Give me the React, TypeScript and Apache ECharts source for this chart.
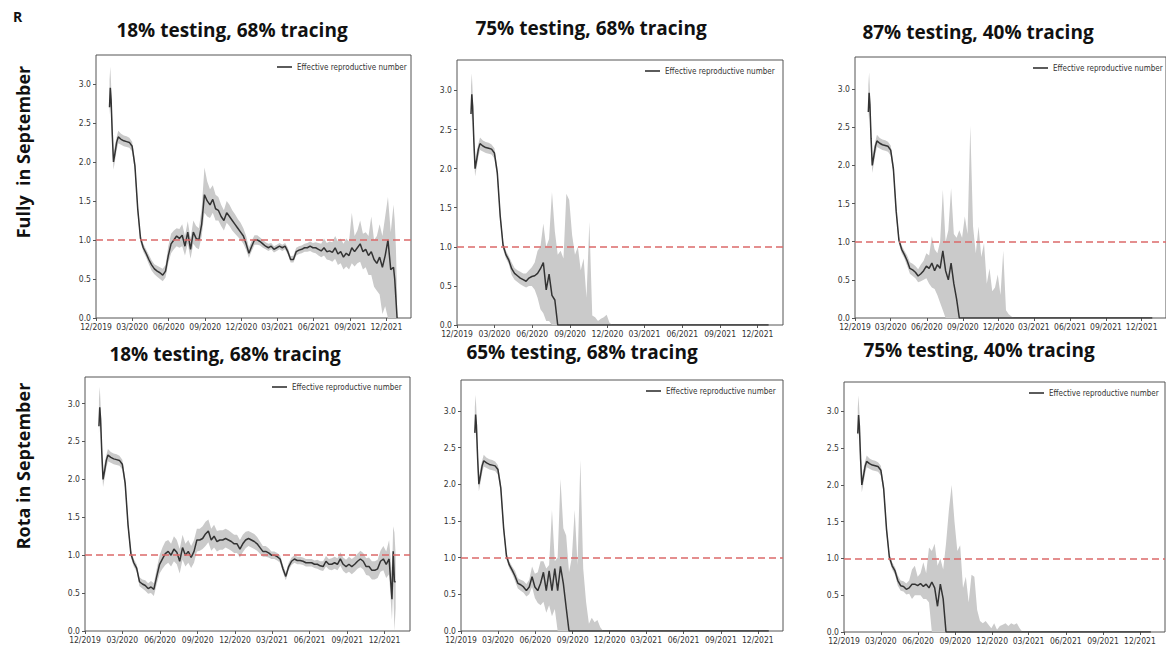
import React, { useEffect, useRef } from "react";
import * as echarts from "echarts";

// ---------------- DATA ----------------
const DATES = [
  "2020-01-04", "2020-01-06", "2020-01-08", "2020-01-11", "2020-01-14", "2020-01-18", "2020-01-22", "2020-01-26",
  "2020-02-02", "2020-02-09", "2020-02-16", "2020-02-23", "2020-03-01", "2020-03-08", "2020-03-15", "2020-03-22", "2020-03-29", "2020-04-05",
  "2020-04-12", "2020-04-19", "2020-04-26", "2020-05-03", "2020-05-10", "2020-05-17", "2020-05-24", "2020-05-31", "2020-06-07", "2020-06-14",
  "2020-06-21", "2020-06-28", "2020-07-05", "2020-07-12", "2020-07-19", "2020-07-26", "2020-08-02", "2020-08-09", "2020-08-16", "2020-08-23",
  "2020-08-30", "2020-09-06", "2020-09-13", "2020-09-20", "2020-09-27", "2020-10-04", "2020-10-11", "2020-10-18", "2020-10-25", "2020-11-01",
  "2020-11-08", "2020-11-15", "2020-11-22", "2020-11-29", "2020-12-06", "2020-12-13", "2020-12-20", "2020-12-27", "2021-01-03", "2021-01-10",
  "2021-01-17", "2021-01-24", "2021-01-31", "2021-02-07", "2021-02-14", "2021-02-21", "2021-02-28", "2021-03-07", "2021-03-14", "2021-03-21",
  "2021-03-28", "2021-04-04", "2021-04-11", "2021-04-18", "2021-04-25", "2021-05-02", "2021-05-09", "2021-05-16", "2021-05-23", "2021-05-30",
  "2021-06-06", "2021-06-13", "2021-06-20", "2021-06-27", "2021-07-04", "2021-07-11", "2021-07-18", "2021-07-25", "2021-08-01", "2021-08-08",
  "2021-08-15", "2021-08-22", "2021-08-29", "2021-09-05", "2021-09-12", "2021-09-19", "2021-09-26", "2021-10-03", "2021-10-10", "2021-10-17",
  "2021-10-24", "2021-10-31", "2021-11-07", "2021-11-14", "2021-11-21", "2021-11-28", "2021-12-05", "2021-12-12", "2021-12-19",
  "2021-12-22", "2021-12-25", "2021-12-28",
];

const TICK_DATES = ["2019-12-01", "2020-03-01", "2020-06-01", "2020-09-01", "2020-12-01", "2021-03-01", "2021-06-01", "2021-09-01", "2021-12-01"];
const TICK_LABELS = ["12/2019", "03/2020", "06/2020", "09/2020", "12/2020", "03/2021", "06/2021", "09/2021", "12/2021"];
const Y_TICKS = [0, 0.5, 1.0, 1.5, 2.0, 2.5, 3.0];
const THRESHOLD = 1.0;
const X_START = "2019-12-01";
const X_END = "2022-02-01";

const TITLES = [
  "18% testing, 68% tracing", "75% testing, 68% tracing", "87% testing, 40% tracing",
  "18% testing, 68% tracing", "65% testing, 68% tracing", "75% testing, 40% tracing",
];
const ROW_LABELS = ["Fully  in September", "Rota in September"];
const PANEL_LETTER = "R";
const LEGEND_NAME = "Effective reproductive number";

// Shared early epidemic phase (Jan 4 - Apr 5 2020), identical in all scenarios
const EARLY_MID = [2.70, 2.95, 2.80, 2.35, 2.00, 2.12, 2.25, 2.32, 2.29, 2.27, 2.26, 2.25, 2.20, 1.95, 1.40, 1.02, 0.90, 0.83];
const EARLY_LO = [2.60, 2.75, 2.60, 2.20, 1.90, 2.02, 2.15, 2.24, 2.22, 2.20, 2.19, 2.18, 2.13, 1.88, 1.33, 0.97, 0.85, 0.78];
const EARLY_HI = [3.05, 3.22, 3.00, 2.50, 2.10, 2.22, 2.32, 2.40, 2.36, 2.34, 2.33, 2.31, 2.26, 2.02, 1.47, 1.07, 0.95, 0.88];

// Fully in September, 18% testing, 68% tracing (from Apr 12 2020)
const FULLY_18_68_MID = [
  0.75, 0.68, 0.63, 0.60, 0.58, 0.55, 0.60, 0.80, 0.95, 1.00,
  1.05, 1.02, 1.06, 0.92, 1.10, 0.88, 1.10, 1.02, 1.00, 1.20,
  1.58, 1.50, 1.45, 1.52, 1.40, 1.38, 1.30, 1.25, 1.35, 1.30,
  1.25, 1.20, 1.15, 1.10, 1.05, 0.95, 0.83, 0.92, 1.00, 1.00,
  0.98, 0.95, 0.92, 0.90, 0.92, 0.88, 0.90, 0.92, 0.90, 0.92,
  0.85, 0.75, 0.75, 0.85, 0.87, 0.88, 0.90, 0.90, 0.92, 0.90,
  0.90, 0.88, 0.86, 0.90, 0.85, 0.86, 0.84, 0.90, 0.82, 0.85,
  0.78, 0.83, 0.80, 0.90, 0.85, 0.90, 0.95, 0.85, 0.88, 0.80,
  0.85, 0.75, 0.70, 0.78, 0.65, 0.80, 1.00, 0.62, 0.65,
  0.50, 0.25, 0.00,
];
const FULLY_18_68_LO = [
  0.69, 0.61, 0.56, 0.53, 0.50, 0.47, 0.52, 0.70, 0.83, 0.88,
  0.92, 0.90, 0.92, 0.80, 0.95, 0.76, 0.95, 0.90, 0.88, 1.05,
  1.35, 1.30, 1.28, 1.35, 1.25, 1.25, 1.18, 1.12, 1.22, 1.18,
  1.12, 1.08, 1.04, 1.00, 0.95, 0.87, 0.77, 0.86, 0.94, 0.94,
  0.93, 0.90, 0.88, 0.86, 0.88, 0.84, 0.86, 0.88, 0.86, 0.88,
  0.81, 0.71, 0.71, 0.80, 0.82, 0.83, 0.85, 0.85, 0.86, 0.84,
  0.83, 0.80, 0.78, 0.80, 0.75, 0.74, 0.72, 0.76, 0.68, 0.70,
  0.62, 0.66, 0.62, 0.70, 0.66, 0.70, 0.72, 0.62, 0.65, 0.55,
  0.55, 0.40, 0.35, 0.30, 0.05, 0.15, 0.00, 0.00, 0.00,
  0.00, 0.00, 0.00,
];
const FULLY_18_68_HI = [
  0.81, 0.74, 0.69, 0.67, 0.65, 0.63, 0.68, 0.92, 1.08, 1.12,
  1.15, 1.14, 1.20, 1.05, 1.24, 1.02, 1.25, 1.18, 1.15, 1.40,
  1.93, 1.75, 1.65, 1.70, 1.58, 1.55, 1.45, 1.38, 1.50, 1.45,
  1.38, 1.33, 1.27, 1.22, 1.15, 1.05, 0.90, 0.99, 1.06, 1.06,
  1.03, 1.00, 0.97, 0.95, 0.96, 0.92, 0.94, 0.96, 0.94, 0.96,
  0.90, 0.79, 0.80, 0.90, 0.92, 0.93, 0.95, 0.96, 0.98, 0.96,
  0.97, 0.96, 0.95, 1.02, 0.96, 0.98, 0.97, 1.05, 0.98, 1.02,
  0.95, 1.02, 0.98, 1.35, 1.05, 1.12, 1.25, 1.08, 1.10, 1.05,
  1.30, 1.00, 1.05, 1.20, 1.05, 1.30, 1.55, 1.10, 1.45,
  1.25, 0.90, 0.30,
];

// Fully in September, 75% testing, 68% tracing
const FULLY_75_68_MID = [
  0.72, 0.66, 0.63, 0.60, 0.58, 0.56, 0.60, 0.62, 0.63, 0.66,
  0.72, 0.80, 0.45, 0.65, 0.38, 0.32, 0, 0, 0, 0,
  0, 0, 0, 0, 0, 0, 0, 0, 0, 0,
  0, 0, 0, 0, 0, 0, 0, 0, 0, 0,
  0, 0, 0, 0, 0, 0, 0, 0, 0, 0,
  0, 0, 0, 0, 0, 0, 0, 0, 0, 0,
  0, 0, 0, 0, 0, 0, 0, 0, 0, 0,
  0, 0, 0, 0, 0, 0, 0, 0, 0, 0,
  0, 0, 0, 0, 0, 0, 0, 0, 0,
  0, 0, 0,
];
const FULLY_75_68_LO = [
  0.64, 0.58, 0.55, 0.52, 0.50, 0.48, 0.50, 0.50, 0.45, 0.35,
  0.20, 0.15, 0.05, 0.05, 0, 0, 0, 0, 0, 0,
  0, 0, 0, 0, 0, 0, 0, 0, 0, 0,
  0, 0, 0, 0, 0, 0, 0, 0, 0, 0,
  0, 0, 0, 0, 0, 0, 0, 0, 0, 0,
  0, 0, 0, 0, 0, 0, 0, 0, 0, 0,
  0, 0, 0, 0, 0, 0, 0, 0, 0, 0,
  0, 0, 0, 0, 0, 0, 0, 0, 0, 0,
  0, 0, 0, 0, 0, 0, 0, 0, 0,
  0, 0, 0,
];
const FULLY_75_68_HI = [
  0.80, 0.73, 0.70, 0.68, 0.66, 0.66, 0.70, 0.74, 0.80, 0.95,
  1.00, 1.30, 1.00, 1.10, 1.70, 1.20, 0.90, 0.95, 0.85, 1.68,
  1.60, 1.15, 0.90, 1.00, 0.70, 0.85, 0.35, 1.32, 0.12, 0.10,
  0.05, 0.08, 0.10, 0.13, 0.03, 0, 0, 0, 0, 0,
  0, 0, 0, 0, 0, 0, 0, 0, 0, 0,
  0, 0, 0, 0, 0, 0, 0, 0, 0, 0,
  0, 0, 0, 0, 0, 0, 0, 0, 0, 0,
  0, 0, 0, 0, 0, 0, 0, 0, 0, 0,
  0, 0, 0, 0, 0, 0, 0, 0, 0,
  0, 0, 0,
];

// Fully in September, 87% testing, 40% tracing
const FULLY_87_40_MID = [
  0.75, 0.65, 0.63, 0.60, 0.55, 0.58, 0.62, 0.68, 0.65, 0.72,
  0.62, 0.70, 0.65, 0.88, 0.62, 0.50, 0.72, 0.45, 0.25, 0,
  0, 0, 0, 0, 0, 0, 0, 0, 0, 0,
  0, 0, 0, 0, 0, 0, 0, 0, 0, 0,
  0, 0, 0, 0, 0, 0, 0, 0, 0, 0,
  0, 0, 0, 0, 0, 0, 0, 0, 0, 0,
  0, 0, 0, 0, 0, 0, 0, 0, 0, 0,
  0, 0, 0, 0, 0, 0, 0, 0, 0, 0,
  0, 0, 0, 0, 0, 0, 0, 0, 0,
  0, 0, 0,
];
const FULLY_87_40_LO = [
  0.68, 0.58, 0.55, 0.52, 0.47, 0.48, 0.50, 0.52, 0.45, 0.40,
  0.38, 0.30, 0.20, 0.10, 0, 0, 0, 0, 0, 0,
  0, 0, 0, 0, 0, 0, 0, 0, 0, 0,
  0, 0, 0, 0, 0, 0, 0, 0, 0, 0,
  0, 0, 0, 0, 0, 0, 0, 0, 0, 0,
  0, 0, 0, 0, 0, 0, 0, 0, 0, 0,
  0, 0, 0, 0, 0, 0, 0, 0, 0, 0,
  0, 0, 0, 0, 0, 0, 0, 0, 0, 0,
  0, 0, 0, 0, 0, 0, 0, 0, 0,
  0, 0, 0,
];
const FULLY_87_40_HI = [
  0.82, 0.73, 0.71, 0.68, 0.64, 0.70, 0.75, 0.85, 0.82, 1.07,
  0.90, 0.85, 1.00, 1.68, 1.00, 1.15, 1.70, 1.10, 1.05, 1.15,
  1.05, 1.33, 1.10, 2.52, 1.20, 0.85, 1.20, 0.80, 0.98, 0.45,
  0.65, 0.35, 0.40, 0.57, 0.30, 0.88, 0.10, 0.05, 0.02, 0,
  0, 0, 0, 0, 0, 0, 0, 0, 0, 0,
  0, 0, 0, 0, 0, 0, 0, 0, 0, 0,
  0, 0, 0, 0, 0, 0, 0, 0, 0, 0,
  0, 0, 0, 0, 0, 0, 0, 0, 0, 0,
  0, 0, 0, 0, 0, 0, 0, 0, 0,
  0, 0, 0,
];

// Rota in September, 18% testing, 68% tracing
const ROTA_18_68_MID = [
  0.65, 0.62, 0.60, 0.56, 0.58, 0.55, 0.72, 0.88, 0.95, 1.02,
  1.05, 1.00, 1.08, 1.04, 0.92, 1.10, 1.00, 1.05, 0.97, 1.05,
  1.20, 1.20, 1.22, 1.28, 1.32, 1.20, 1.25, 1.18, 1.20, 1.20,
  1.22, 1.20, 1.18, 1.15, 1.15, 1.08, 1.15, 1.20, 1.22, 1.20,
  1.18, 1.15, 1.10, 1.05, 1.05, 1.03, 1.00, 1.00, 0.98, 0.95,
  0.82, 0.72, 0.85, 0.92, 0.95, 0.93, 0.93, 0.92, 0.90, 0.90,
  0.90, 0.88, 0.88, 0.86, 0.85, 0.92, 0.88, 0.88, 0.90, 0.88,
  0.95, 0.88, 0.85, 0.88, 0.85, 0.88, 0.92, 0.95, 0.92, 0.85,
  0.85, 0.80, 0.80, 0.82, 0.92, 0.95, 0.88, 0.95, 0.42,
  1.05, 0.65, 0.65,
];
const ROTA_18_68_LO = [
  0.59, 0.56, 0.53, 0.49, 0.50, 0.46, 0.62, 0.76, 0.82, 0.87,
  0.90, 0.85, 0.92, 0.88, 0.76, 0.94, 0.85, 0.90, 0.83, 0.90,
  1.05, 1.06, 1.08, 1.12, 1.17, 1.06, 1.10, 1.05, 1.07, 1.07,
  1.10, 1.08, 1.06, 1.03, 1.03, 0.97, 1.04, 1.09, 1.12, 1.10,
  1.08, 1.06, 1.02, 0.98, 0.98, 0.97, 0.95, 0.95, 0.93, 0.90,
  0.77, 0.67, 0.80, 0.87, 0.90, 0.88, 0.88, 0.87, 0.85, 0.85,
  0.85, 0.83, 0.82, 0.80, 0.79, 0.85, 0.81, 0.80, 0.82, 0.80,
  0.86, 0.79, 0.76, 0.78, 0.75, 0.78, 0.82, 0.84, 0.81, 0.74,
  0.73, 0.68, 0.68, 0.70, 0.78, 0.80, 0.70, 0.75, 0.15,
  0.60, 0.00, 0.30,
];
const ROTA_18_68_HI = [
  0.71, 0.68, 0.67, 0.63, 0.66, 0.63, 0.82, 1.00, 1.10, 1.18,
  1.20, 1.15, 1.25, 1.20, 1.08, 1.27, 1.15, 1.20, 1.12, 1.20,
  1.35, 1.35, 1.38, 1.44, 1.47, 1.35, 1.40, 1.32, 1.33, 1.33,
  1.35, 1.33, 1.30, 1.27, 1.27, 1.20, 1.27, 1.31, 1.32, 1.30,
  1.28, 1.24, 1.18, 1.12, 1.12, 1.09, 1.05, 1.05, 1.03, 1.00,
  0.87, 0.77, 0.90, 0.97, 1.00, 0.98, 0.98, 0.97, 0.95, 0.95,
  0.95, 0.93, 0.94, 0.92, 0.92, 0.99, 0.95, 0.96, 0.98, 0.96,
  1.04, 0.97, 0.94, 0.98, 0.95, 0.98, 1.02, 1.06, 1.03, 0.96,
  0.97, 0.92, 0.92, 0.94, 1.06, 1.12, 1.05, 1.20, 0.75,
  1.38, 1.30, 1.00,
];

// Rota in September, 65% testing, 68% tracing
const ROTA_65_68_MID = [
  0.75, 0.65, 0.63, 0.60, 0.55, 0.60, 0.74, 0.60, 0.55, 0.65,
  0.80, 0.55, 0.82, 0.55, 0.85, 0.55, 0.88, 0.65, 0.32, 0,
  0, 0, 0, 0, 0, 0, 0, 0, 0, 0,
  0, 0, 0, 0, 0, 0, 0, 0, 0, 0,
  0, 0, 0, 0, 0, 0, 0, 0, 0, 0,
  0, 0, 0, 0, 0, 0, 0, 0, 0, 0,
  0, 0, 0, 0, 0, 0, 0, 0, 0, 0,
  0, 0, 0, 0, 0, 0, 0, 0, 0, 0,
  0, 0, 0, 0, 0, 0, 0, 0, 0,
  0, 0, 0,
];
const ROTA_65_68_LO = [
  0.68, 0.58, 0.55, 0.52, 0.47, 0.50, 0.60, 0.45, 0.38, 0.35,
  0.40, 0.25, 0.35, 0.20, 0.30, 0, 0, 0, 0, 0,
  0, 0, 0, 0, 0, 0, 0, 0, 0, 0,
  0, 0, 0, 0, 0, 0, 0, 0, 0, 0,
  0, 0, 0, 0, 0, 0, 0, 0, 0, 0,
  0, 0, 0, 0, 0, 0, 0, 0, 0, 0,
  0, 0, 0, 0, 0, 0, 0, 0, 0, 0,
  0, 0, 0, 0, 0, 0, 0, 0, 0, 0,
  0, 0, 0, 0, 0, 0, 0, 0, 0,
  0, 0, 0,
];
const ROTA_65_68_HI = [
  0.82, 0.72, 0.70, 0.68, 0.64, 0.70, 0.88, 0.78, 0.80, 0.95,
  0.95, 0.85, 0.90, 1.65, 0.95, 1.00, 2.07, 1.40, 1.30, 0.80,
  1.00, 1.65, 0.90, 2.33, 0.85, 0.40, 0.10, 0.18, 0.12, 0.15,
  0.05, 0, 0, 0, 0, 0, 0, 0, 0, 0,
  0, 0, 0, 0, 0, 0, 0, 0, 0, 0,
  0, 0, 0, 0, 0, 0, 0, 0, 0, 0,
  0, 0, 0, 0, 0, 0, 0, 0, 0, 0,
  0, 0, 0, 0, 0, 0, 0, 0, 0, 0,
  0, 0, 0, 0, 0, 0, 0, 0, 0,
  0, 0, 0,
];

// Rota in September, 75% testing, 40% tracing
const ROTA_75_40_MID = [
  0.70, 0.63, 0.62, 0.58, 0.60, 0.65, 0.65, 0.63, 0.66, 0.62,
  0.65, 0.60, 0.68, 0.60, 0.35, 0.65, 0.45, 0, 0, 0,
  0, 0, 0, 0, 0, 0, 0, 0, 0, 0,
  0, 0, 0, 0, 0, 0, 0, 0, 0, 0,
  0, 0, 0, 0, 0, 0, 0, 0, 0, 0,
  0, 0, 0, 0, 0, 0, 0, 0, 0, 0,
  0, 0, 0, 0, 0, 0, 0, 0, 0, 0,
  0, 0, 0, 0, 0, 0, 0, 0, 0, 0,
  0, 0, 0, 0, 0, 0, 0, 0, 0,
  0, 0, 0,
];
const ROTA_75_40_LO = [
  0.63, 0.56, 0.55, 0.51, 0.52, 0.45, 0.50, 0.50, 0.50, 0.45,
  0.45, 0.40, 0, 0, 0, 0, 0, 0, 0, 0,
  0, 0, 0, 0, 0, 0, 0, 0, 0, 0,
  0, 0, 0, 0, 0, 0, 0, 0, 0, 0,
  0, 0, 0, 0, 0, 0, 0, 0, 0, 0,
  0, 0, 0, 0, 0, 0, 0, 0, 0, 0,
  0, 0, 0, 0, 0, 0, 0, 0, 0, 0,
  0, 0, 0, 0, 0, 0, 0, 0, 0, 0,
  0, 0, 0, 0, 0, 0, 0, 0, 0,
  0, 0, 0,
];
const ROTA_75_40_HI = [
  0.77, 0.70, 0.69, 0.66, 0.70, 0.85, 0.90, 0.75, 0.80, 0.95,
  0.80, 1.15, 1.10, 1.20, 0.90, 1.00, 0.85, 1.20, 1.65, 2.00,
  1.50, 1.10, 1.18, 0.60, 0.75, 0.40, 0.78, 0.75, 0.30, 0.15,
  0.12, 0.15, 0.10, 0.05, 0.12, 0.03, 0.08, 0.10, 0.12, 0.08,
  0.12, 0.10, 0.12, 0.05, 0, 0, 0, 0, 0, 0,
  0, 0, 0, 0, 0, 0, 0, 0, 0, 0,
  0, 0, 0, 0, 0, 0, 0, 0, 0, 0,
  0, 0, 0, 0, 0, 0, 0, 0, 0, 0,
  0, 0, 0, 0, 0, 0, 0, 0, 0,
  0, 0, 0,
];

const PANEL_MID = [FULLY_18_68_MID, FULLY_75_68_MID, FULLY_87_40_MID, ROTA_18_68_MID, ROTA_65_68_MID, ROTA_75_40_MID];
const PANEL_LO = [FULLY_18_68_LO, FULLY_75_68_LO, FULLY_87_40_LO, ROTA_18_68_LO, ROTA_65_68_LO, ROTA_75_40_LO];
const PANEL_HI = [FULLY_18_68_HI, FULLY_75_68_HI, FULLY_87_40_HI, ROTA_18_68_HI, ROTA_65_68_HI, ROTA_75_40_HI];

// ---------------- LAYOUT ----------------
const LAYOUT = [
  { grid: [96, 55, 315, 263], yMax: 3.37, legend: [277, 63], title: [232, 30] },
  { grid: [457, 60, 326, 265], yMax: 3.39, legend: [645, 67], title: [591, 28] },
  { grid: [855, 57, 320, 261], yMax: 3.42, legend: [1033, 64], title: [978, 32] },
  { grid: [85, 377, 325, 254], yMax: 3.35, legend: [272, 383], title: [225, 354] },
  { grid: [461, 380, 322, 251], yMax: 3.42, legend: [646, 387], title: [582, 352] },
  { grid: [844, 382, 321, 251], yMax: 3.40, legend: [1029, 389], title: [979, 350] },
];

const FONT_COND = '"DejaVu Sans Condensed", "Liberation Sans Narrow", "DejaVu Sans", sans-serif';
const FONT_TITLE = '"Open Sans", "Noto Sans", sans-serif';
const BAND_COLOR = "#cacaca";
const LINE_COLOR = "#333333";
const THRESH_COLOR = "#dc6a6a";

const toDay = (s: string) => (Date.parse(s + "T00:00:00Z") - Date.parse(X_START + "T00:00:00Z")) / 86400000;

function buildOption() {
  const days = DATES.map(toDay);
  const tickDays = TICK_DATES.map(toDay);
  const xMax = toDay(X_END);
  const grid: any[] = [];
  const xAxis: any[] = [];
  const yAxis: any[] = [];
  const series: any[] = [];
  const legend: any[] = [];
  const graphic: any[] = [];

  LAYOUT.forEach((L, i) => {
    const mid = [...EARLY_MID, ...PANEL_MID[i]];
    const lo = [...EARLY_LO, ...PANEL_LO[i]];
    const hi = [...EARLY_HI, ...PANEL_HI[i]];
    grid.push({
      left: L.grid[0], top: L.grid[1], width: L.grid[2], height: L.grid[3],
      show: true, borderColor: "#555", borderWidth: 1, backgroundColor: "#fff",
    });
    xAxis.push({
      type: "value", gridIndex: i, min: 0, max: xMax,
      axisLine: { show: false, onZero: false },
      splitLine: { show: false },
      axisTick: { show: true, inside: false, length: 3, customValues: tickDays, lineStyle: { color: "#555", width: 1 } },
      axisLabel: {
        customValues: tickDays, margin: 4, fontSize: 8.5, color: "#333", fontFamily: FONT_COND,
        formatter: (v: number) => {
          const k = tickDays.findIndex((d) => Math.abs(d - v) < 0.5);
          return k >= 0 ? TICK_LABELS[k] : "";
        },
      },
    });
    yAxis.push({
      type: "value", gridIndex: i, min: 0, max: L.yMax,
      axisLine: { show: false, onZero: false },
      splitLine: { show: false },
      axisTick: { show: true, inside: false, length: 3, customValues: Y_TICKS, lineStyle: { color: "#555", width: 1 } },
      axisLabel: {
        customValues: Y_TICKS, margin: 5, fontSize: 8.5, color: "#333", fontFamily: FONT_COND,
        formatter: (v: number) => v.toFixed(1),
      },
    });
    const upper = days.map((d, j) => [d, hi[j]]);
    const lower = days.map((d, j) => [d, lo[j]]).reverse();
    series.push({
      type: "custom", name: "band-" + i, coordinateSystem: "cartesian2d", xAxisIndex: i, yAxisIndex: i,
      silent: true, z: 1, clip: true,
      data: days.map((d, j) => [d, lo[j], hi[j]]),
      encode: { x: 0, y: [1, 2] },
      renderItem: (params: any, api: any) => {
        if (params.dataIndex !== 0) return null;
        const pts = upper.map((p) => api.coord(p)).concat(lower.map((p) => api.coord(p)));
        return { type: "polygon", shape: { points: pts }, style: { fill: BAND_COLOR, stroke: null } };
      },
    });
    series.push({
      type: "line", name: LEGEND_NAME, xAxisIndex: i, yAxisIndex: i,
      data: days.map((d, j) => [d, mid[j]]), symbol: "none", showSymbol: false, silent: true,
      lineStyle: { color: LINE_COLOR, width: 1.5 }, itemStyle: { color: LINE_COLOR }, z: 3,
      markLine: {
        silent: true, symbol: ["none", "none"], label: { show: false },
        lineStyle: { color: THRESH_COLOR, type: [7, 4], width: 1.5 },
        data: [{ yAxis: THRESHOLD }],
      },
    });
    legend.push({
      data: [LEGEND_NAME], left: L.legend[0], top: L.legend[1], padding: 0,
      icon: "rect", itemWidth: 15, itemHeight: 1.6, selectedMode: false,
      textStyle: { fontSize: 8, color: "#333", fontFamily: FONT_COND },
    });
    graphic.push({
      type: "text", x: L.title[0], y: L.title[1], z: 10,
      style: {
        text: TITLES[i], fontSize: 19, fontWeight: "bold", fontFamily: FONT_TITLE, fill: "#111",
        align: "center", verticalAlign: "middle", textAlign: "center", textVerticalAlign: "middle",
      },
    });
  });

  graphic.push({
    type: "text", x: 13, y: 9, z: 10,
    style: { text: PANEL_LETTER, fontSize: 14, fontWeight: "bold", fontFamily: FONT_TITLE, fill: "#111" },
  });
  graphic.push({
    type: "text", x: 23, y: 152, rotation: Math.PI / 2, z: 10,
    style: {
      text: ROW_LABELS[0], fontSize: 18, fontWeight: "bold", fontFamily: FONT_TITLE, fill: "#111",
      align: "center", verticalAlign: "middle", textAlign: "center", textVerticalAlign: "middle",
    },
  });
  graphic.push({
    type: "text", x: 23, y: 466, rotation: Math.PI / 2, z: 10,
    style: {
      text: ROW_LABELS[1], fontSize: 18, fontWeight: "bold", fontFamily: FONT_TITLE, fill: "#111",
      align: "center", verticalAlign: "middle", textAlign: "center", textVerticalAlign: "middle",
    },
  });

  return {
    animation: false,
    backgroundColor: "#fff",
    grid, xAxis, yAxis, series, legend, graphic,
  };
}

export default function App() {
  const ref = useRef<HTMLDivElement>(null);
  useEffect(() => {
    const chart = echarts.init(ref.current!, null, { renderer: "svg" });
    chart.setOption(buildOption() as any);
    return () => chart.dispose();
  }, []);
  return (
    <div
      ref={ref}
      style={{ position: "absolute", left: 0, top: 0, width: 1166, height: 645, background: "#fff" }}
    />
  );
}
